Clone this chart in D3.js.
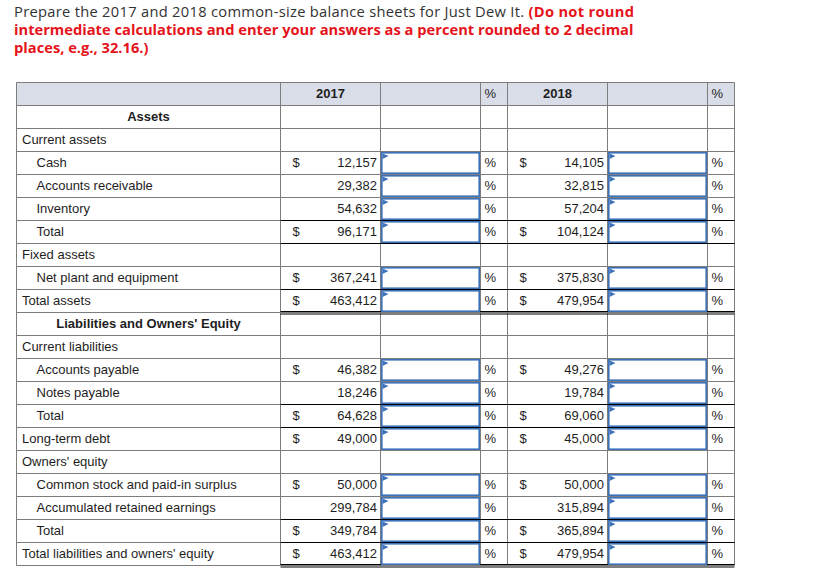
<!DOCTYPE html>
<html>
<head>
<meta charset="utf-8">
<script src="https://cdn.jsdelivr.net/npm/d3@7"></script>
<style>
  html, body { margin: 0; padding: 0; background: #fff; }
  svg { display: block; }
</style>
</head>
<body>
<svg id="chart" width="820" height="585"></svg>
<script>
// ---------- data ----------
const titleNormal = "Prepare the 2017 and 2018 common-size balance sheets for Just Dew It. ";
const titleBold = ["(Do not round", "intermediate calculations and enter your answers as a percent rounded to 2 decimal", "places, e.g., 32.16.)"];

const yearLabels = ["2017", "2018"];

const rowLabels = [
  "Assets", "Current assets", "Cash", "Accounts receivable", "Inventory", "Total",
  "Fixed assets", "Net plant and equipment", "Total assets",
  "Liabilities and Owners' Equity", "Current liabilities", "Accounts payable", "Notes payable", "Total",
  "Long-term debt", "Owners' equity", "Common stock and paid-in surplus", "Accumulated retained earnings", "Total",
  "Total liabilities and owners' equity"
];
// heading = bold centered, group = unindented, item = indented
const rowKinds = [
  "heading", "group", "item", "item", "item", "item",
  "group", "item", "group",
  "heading", "group", "item", "item", "item",
  "group", "group", "item", "item", "item",
  "group"
];
const values2017 = [null, null, 12157, 29382, 54632, 96171, null, 367241, 463412,
  null, null, 46382, 18246, 64628, 49000, null, 50000, 299784, 349784, 463412];
const values2018 = [null, null, 14105, 32815, 57204, 104124, null, 375830, 479954,
  null, null, 49276, 19784, 69060, 45000, null, 50000, 315894, 365894, 479954];
const dollarRows = [2, 5, 7, 8, 11, 13, 14, 16, 18, 19];
const singleRuleAbove = [5, 6, 8, 13, 14, 18, 19];   // black rule at top of row
const doubleRuleBelow = [8, 19];

// ---------- layout ----------
const svg = d3.select("#chart");
const fmt = d3.format(",");
const gridColor = "#7d7d7d";
const headBg = "#d9dde8";
const inputBlue = "#3d72bb";
const textColor = "#1e1e1e";

const colEdges = [16.5, 280.5, 380.5, 480.5, 507.5, 607.5, 707.5, 734.5];
const tableLeft = colEdges[0], tableRight = colEdges[colEdges.length - 1];

const y = d3.scaleBand()
  .domain(["header"].concat(d3.range(rowLabels.length)))
  .range([82.5, 565.5])
  .paddingInner(0).paddingOuter(0);
const rowH = y.bandwidth();

// ---------- title ----------
const titleG = svg.append("g").attr("font-family", "'Open Sans', Lato, sans-serif");
const t1 = titleG.append("text").attr("x", 14).attr("y", 17).attr("font-size", 14);
t1.append("tspan").attr("fill", "#333").text(titleNormal);
t1.append("tspan").attr("fill", "#e5141b").attr("font-weight", "bold").text(titleBold[0]);
const t2 = titleG.append("text").attr("x", 14).attr("y", 35).attr("font-size", 14)
  .attr("fill", "#e5141b").attr("font-weight", "bold").text(titleBold[1]);
const t3 = titleG.append("text").attr("x", 14).attr("y", 53).attr("font-size", 14)
  .attr("fill", "#e5141b").attr("font-weight", "bold").text(titleBold[2]);
// fit line 2 width to the reference (~620px)
const w2 = t2.node().getComputedTextLength();
const fs = Math.min(15.5, 14 * 620 / w2);
[t1, t2, t3].forEach(t => t.attr("font-size", fs));
const w1 = t1.node().getComputedTextLength();
if (Math.abs(w1 - 620) > 4) t1.attr("textLength", 620).attr("lengthAdjust", "spacing");

// ---------- table ----------
const tbl = svg.append("g").attr("font-family", "'Liberation Sans', Arial, sans-serif")
  .attr("font-size", 13).attr("fill", textColor);

// header background
tbl.append("rect")
  .attr("x", tableLeft).attr("y", y("header"))
  .attr("width", tableRight - tableLeft).attr("height", rowH)
  .attr("fill", headBg);

// horizontal grid lines
const hLines = d3.range(rowLabels.length + 2).map(i => 82.5 + i * rowH);
tbl.selectAll("line.h").data(hLines).join("line")
  .attr("class", "h")
  .attr("x1", tableLeft).attr("x2", tableRight)
  .attr("y1", d => d).attr("y2", d => d)
  .attr("stroke", gridColor).attr("stroke-width", 1);

// vertical grid lines
tbl.selectAll("line.v").data(colEdges).join("line")
  .attr("class", "v")
  .attr("x1", d => d).attr("x2", d => d)
  .attr("y1", 82.5).attr("y2", 565.5)
  .attr("stroke", gridColor).attr("stroke-width", 1);

// black rules
singleRuleAbove.forEach(i => {
  tbl.append("line")
    .attr("x1", colEdges[1]).attr("x2", tableRight)
    .attr("y1", y(i)).attr("y2", y(i))
    .attr("stroke", "#000").attr("stroke-width", 1);
});
doubleRuleBelow.forEach(i => {
  const yb = y(i) + rowH;
  [yb - 1, yb + 1.5].forEach(yy => {
    tbl.append("line")
      .attr("x1", colEdges[1]).attr("x2", tableRight)
      .attr("y1", yy).attr("y2", yy)
      .attr("stroke", "#000").attr("stroke-width", 1);
  });
});

const DY = "0.3em";
// header texts
const hy = y("header") + rowH / 2;
tbl.append("text").attr("x", (colEdges[1] + colEdges[2]) / 2).attr("y", hy).attr("dy", DY)
  .attr("text-anchor", "middle").attr("font-weight", "bold").text(yearLabels[0]);
tbl.append("text").attr("x", colEdges[3] + 4).attr("y", hy).attr("dy", DY).text("%");
tbl.append("text").attr("x", (colEdges[4] + colEdges[5]) / 2).attr("y", hy).attr("dy", DY)
  .attr("text-anchor", "middle").attr("font-weight", "bold").text(yearLabels[1]);
tbl.append("text").attr("x", colEdges[6] + 4).attr("y", hy).attr("dy", DY).text("%");

// row labels
tbl.selectAll("text.lbl").data(rowLabels).join("text")
  .attr("class", "lbl")
  .attr("x", (d, i) => rowKinds[i] === "heading" ? (colEdges[0] + colEdges[1]) / 2
    : rowKinds[i] === "item" ? colEdges[0] + 20 : colEdges[0] + 5.5)
  .attr("y", (d, i) => y(i) + rowH / 2)
  .attr("dy", DY)
  .attr("text-anchor", (d, i) => rowKinds[i] === "heading" ? "middle" : "start")
  .attr("font-weight", (d, i) => rowKinds[i] === "heading" ? "bold" : "normal")
  .text(d => d);

// value columns
const years = [
  { vals: values2017, amtCol: 1 },
  { vals: values2018, amtCol: 4 }
];
years.forEach(yr => {
  const x0 = colEdges[yr.amtCol], x1 = colEdges[yr.amtCol + 1];
  const inX0 = colEdges[yr.amtCol + 1], inX1 = colEdges[yr.amtCol + 2];
  const pctX = colEdges[yr.amtCol + 2];
  const rows = yr.vals.map((v, i) => ({ v, i })).filter(d => d.v !== null);
  const g = tbl.append("g");

  g.selectAll("text.dol").data(rows.filter(d => dollarRows.includes(d.i))).join("text")
    .attr("class", "dol")
    .attr("x", x0 + 12).attr("y", d => y(d.i) + rowH / 2).attr("dy", DY)
    .text("$");
  g.selectAll("text.amt").data(rows).join("text")
    .attr("class", "amt")
    .attr("x", x1 - 3.5).attr("y", d => y(d.i) + rowH / 2).attr("dy", DY)
    .attr("text-anchor", "end")
    .text(d => fmt(d.v));
  g.selectAll("rect.inp").data(rows).join("rect")
    .attr("class", "inp")
    .attr("x", inX0 + 1.3).attr("y", d => y(d.i) + 1.3)
    .attr("width", inX1 - inX0 - 2.6).attr("height", rowH - 2.6)
    .attr("fill", "#fff").attr("stroke", inputBlue).attr("stroke-width", 1.6);
  g.selectAll("path.flag").data(rows).join("path")
    .attr("class", "flag")
    .attr("d", d => {
      const bx = inX0 + 2, by = y(d.i) + 2;
      return `M${bx},${by}L${bx + 6},${by + 2.5}L${bx},${by + 5.5}Z`;
    })
    .attr("fill", inputBlue);
  g.selectAll("text.pct").data(rows).join("text")
    .attr("class", "pct")
    .attr("x", pctX + 4).attr("y", d => y(d.i) + rowH / 2).attr("dy", DY)
    .text("%");
});
</script>
</body>
</html>
